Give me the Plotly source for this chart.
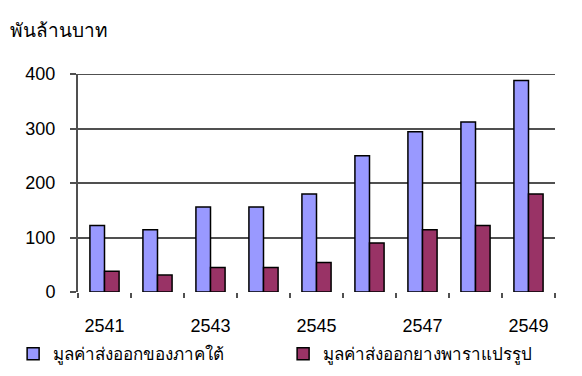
import plotly.graph_objects as go

years = [2541, 2542, 2543, 2544, 2545, 2546, 2547, 2548, 2549]
south_exports = [122, 114, 156, 156, 180, 250, 294, 312, 388]
rubber_exports = [38, 31, 45, 45, 54, 90, 114, 122, 180]
label_years = [2541, 2543, 2545, 2547, 2549]
y_ticks = [0, 100, 200, 300, 400]
series_names = ["มูลค่าส่งออกของภาคใต้", "มูลค่าส่งออกยางพาราแปรรูป"]
y_title = "พันล้านบาท"

FONT = "Liberation Sans, Arial, sans-serif"
GRID = "#505050"

fig = go.Figure()
fig.add_trace(go.Bar(x=years, y=south_exports, name=series_names[0], legend="legend",
                     marker=dict(color="#9999FF", line=dict(color="#000000", width=1.5))))
fig.add_trace(go.Bar(x=years, y=rubber_exports, name=series_names[1], legend="legend2",
                     marker=dict(color="#993366", line=dict(color="#000000", width=1.5))))

boundaries = [y - 0.5 for y in years] + [years[-1] + 0.5]

leg_common = dict(orientation="h", xanchor="left", y=-0.285, yanchor="middle",
                  font=dict(size=17), itemwidth=30, bgcolor="rgba(0,0,0,0)")

fig.update_layout(
    width=582, height=376,
    margin=dict(l=78, r=27, t=74, b=84, autoexpand=False),
    paper_bgcolor="white", plot_bgcolor="white",
    barmode="group", bargap=0.45, bargroupgap=0,
    font=dict(family=FONT, size=18, color="#000000"),
    showlegend=True,
    legend=dict(x=-0.136, **leg_common),
    legend2=dict(x=0.43, **leg_common),
    xaxis=dict(range=[years[0] - 0.5, years[-1] + 0.5], tickmode="array",
               tickvals=label_years, ticktext=[str(v) for v in label_years],
               ticks="", showgrid=False, zeroline=False, showline=False,
               ticklabelstandoff=21, tickfont=dict(size=18)),
    xaxis2=dict(overlaying="x", range=[years[0] - 0.5, years[-1] + 0.5], side="bottom",
                tickmode="array", tickvals=boundaries, showticklabels=False,
                ticks="outside", ticklen=5, tickwidth=2, tickcolor=GRID,
                showgrid=False, zeroline=False, showline=False, anchor="y"),
    yaxis=dict(range=[0, 400], tickmode="array", tickvals=y_ticks,
               ticks="outside", ticklen=6, tickwidth=2, tickcolor=GRID,
               showgrid=True, gridcolor=GRID, gridwidth=2,
               showline=True, linecolor=GRID, linewidth=2,
               zeroline=False, ticklabelstandoff=11, tickfont=dict(size=18)),
)
# invisible trace to activate xaxis2
fig.add_trace(go.Scatter(x=[years[0]], y=[0], xaxis="x2", mode="markers",
                         marker=dict(opacity=0), showlegend=False, hoverinfo="skip"))

# top gridline at 400 (sits on the plot edge)
fig.add_shape(type="line", xref="paper", yref="y", x0=0, x1=1, y0=y_ticks[-1], y1=y_ticks[-1],
              line=dict(color=GRID, width=2), layer="above")

fig.add_annotation(text=y_title, xref="paper", yref="paper", x=-0.146, y=1.2,
                   xanchor="left", yanchor="middle", showarrow=False,
                   font=dict(size=19, color="#000000"))

fig.write_html("out.html")
